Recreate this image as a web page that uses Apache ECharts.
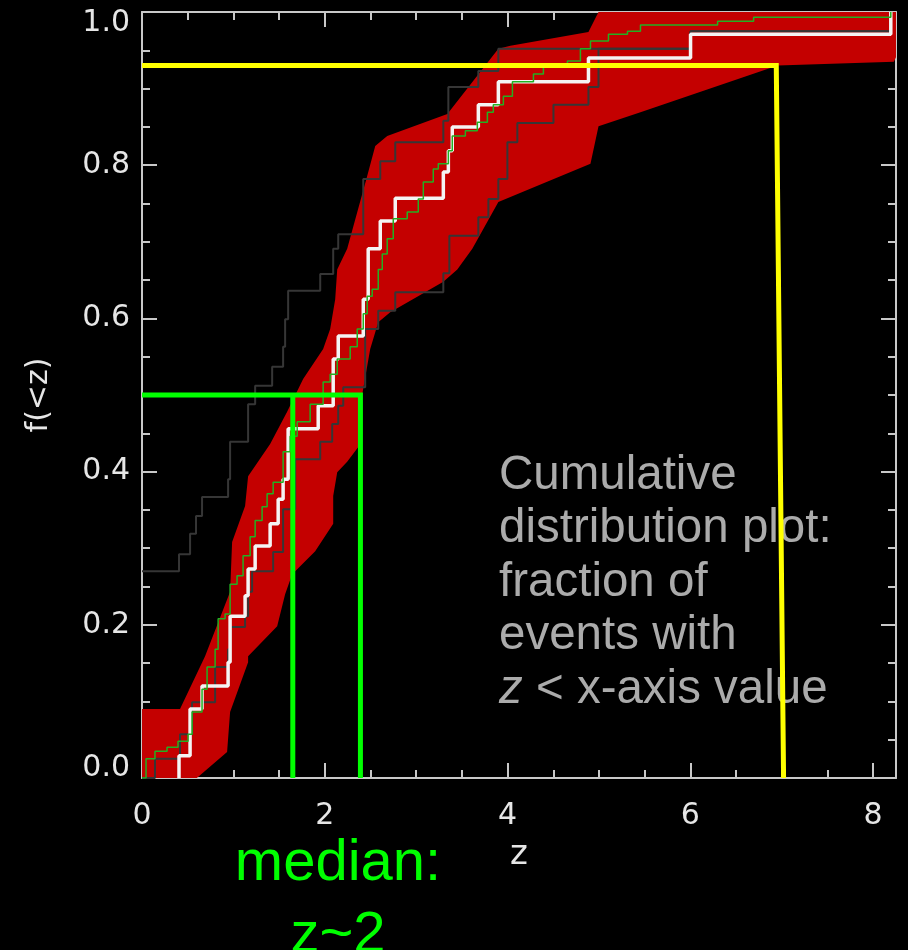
<!DOCTYPE html>
<html>
<head>
<meta charset="utf-8">
<script src="https://cdn.jsdelivr.net/npm/echarts@6.0.0/dist/echarts.min.js"></script>
<style>
  html, body { margin: 0; padding: 0; background: #000; }
  #main { width: 908px; height: 950px; }
</style>
</head>
<body>
<div id="main"></div>
<script>
// tick labels
var zTicks = [0, 2, 4, 6, 8];
var zMinorTicks = [0.5, 1, 1.5, 2.5, 3, 3.5, 4.5, 5, 5.5, 6.5, 7, 7.5];

// red band: upper (left) edge from bottom to top, lower (right) edge from top to bottom
var bandUpperZ = [0, 0, 0.416, 0.69, 0.964, 0.986, 1.128, 1.161, 1.402, 1.588, 1.763, 1.982, 2.059, 2.114, 2.136, 2.245, 2.464, 2.552, 2.683, 3.341, 3.899, 4.031, 4.885, 4.995, 8.25];
var bandUpperF = [0, 0.09, 0.09, 0.159, 0.243, 0.308, 0.355, 0.394, 0.436, 0.478, 0.521, 0.56, 0.586, 0.625, 0.664, 0.691, 0.786, 0.825, 0.838, 0.867, 0.952, 0.956, 0.974, 1.0, 1.0];
var bandLowerZ = [8.25, 8.226, 6.955, 5.454, 4.995, 4.907, 3.899, 3.614, 3.45, 3.297, 2.716, 2.585, 2.497, 2.41, 2.41, 2.245, 2.136, 2.092, 2.092, 1.895, 1.643, 1.566, 1.479, 1.161, 1.161, 0.964, 0.931, 0.6];
var bandLowerF = [0.941, 0.935, 0.93, 0.869, 0.851, 0.802, 0.752, 0.691, 0.664, 0.648, 0.608, 0.595, 0.56, 0.501, 0.439, 0.413, 0.399, 0.368, 0.332, 0.296, 0.266, 0.24, 0.198, 0.159, 0.151, 0.086, 0.034, 0];

// observed cumulative distribution (white)
var whiteZ = [0.405, 0.405, 0.526, 0.657, 0.942, 0.964, 1.128, 1.161, 1.238, 1.402, 1.49, 1.544, 1.599, 1.928, 2.092, 2.147, 2.421, 2.475, 2.607, 2.771, 3.297, 3.352, 3.395, 3.68, 3.899, 4.885, 6.002, 8.193];
var whiteF = [0, 0.029, 0.09, 0.12, 0.151, 0.211, 0.238, 0.273, 0.303, 0.332, 0.364, 0.39, 0.456, 0.486, 0.547, 0.577, 0.625, 0.691, 0.727, 0.757, 0.791, 0.819, 0.85, 0.879, 0.909, 0.94, 0.971, 1.0];

// model distribution (thin green)
var greenZ = [0, 0.044, 0.142, 0.274, 0.394, 0.504, 0.548, 0.657, 0.712, 0.8, 0.833, 0.909, 0.964, 1.04, 1.106, 1.183, 1.238, 1.314, 1.369, 1.435, 1.544, 1.621, 1.698, 1.84, 1.982, 2.059, 2.136, 2.278, 2.355, 2.421, 2.464, 2.519, 2.585, 2.629, 2.683, 2.749, 2.902, 3.023, 3.078, 3.187, 3.242, 3.352, 3.395, 3.538, 3.669, 3.779, 3.844, 3.954, 4.053, 4.283, 4.392, 4.655, 4.797, 4.907, 5.104, 5.312, 5.454, 6.298, 6.692, 8.193];
var greenF = [0, 0.025, 0.035, 0.04, 0.048, 0.057, 0.086, 0.116, 0.145, 0.168, 0.208, 0.214, 0.253, 0.264, 0.29, 0.315, 0.336, 0.354, 0.371, 0.386, 0.426, 0.446, 0.465, 0.488, 0.517, 0.527, 0.547, 0.563, 0.586, 0.606, 0.629, 0.638, 0.664, 0.684, 0.704, 0.73, 0.739, 0.756, 0.778, 0.795, 0.802, 0.819, 0.838, 0.845, 0.856, 0.869, 0.879, 0.89, 0.909, 0.919, 0.928, 0.936, 0.952, 0.962, 0.971, 0.975, 0.983, 0.988, 0.993, 1.0];

// bounding distributions (dark grey)
var leftGreyZ = [0, 0.405, 0.526, 0.591, 0.657, 0.942, 0.964, 1.161, 1.238, 1.424, 1.544, 1.566, 1.599, 1.95, 2.092, 2.147, 2.421, 2.607, 2.771, 3.297, 3.352, 3.68, 3.899, 6.002, 8.193];
var leftGreyF = [0.27, 0.292, 0.319, 0.342, 0.367, 0.39, 0.439, 0.488, 0.512, 0.537, 0.563, 0.599, 0.636, 0.658, 0.691, 0.71, 0.782, 0.805, 0.83, 0.858, 0.902, 0.923, 0.952, 0.975, 1.0];
var rightGreyZ = [0, 0.142, 0.416, 0.548, 0.8, 0.942, 0.964, 1.128, 1.161, 1.205, 1.435, 1.544, 1.676, 1.95, 2.081, 2.147, 2.202, 2.442, 2.585, 2.771, 3.297, 3.363, 3.68, 3.79, 3.899, 3.998, 4.107, 4.502, 4.885, 4.995, 6.002, 8.193];
var rightGreyF = [0, 0.025, 0.057, 0.099, 0.145, 0.168, 0.197, 0.211, 0.243, 0.27, 0.295, 0.351, 0.416, 0.439, 0.462, 0.486, 0.51, 0.586, 0.61, 0.634, 0.659, 0.708, 0.732, 0.756, 0.782, 0.83, 0.855, 0.879, 0.902, 0.952, 0.975, 1.0];

// guide lines
var yellowZ = [0, 6.94, 7.02];
var yellowF = [0.93, 0.93, 0];
var medianZ = [0, 2.39, 2.39];
var medianF = [0.5, 0.5, 0];
var medianLowZ = [1.65, 1.65];
var medianLowF = [0.5, 0];

function zip(a, b) {
  return a.map(function (v, i) { return [v, b[i]]; });
}

var axisColor = '#c8c8c8';
var labelFont = { color: '#e6e6e6', fontSize: 30, fontFamily: 'DejaVu Sans' };

var myChart = echarts.init(document.getElementById('main'));

var option = {
  backgroundColor: '#000',
  animation: false,
  grid: { left: 142, right: 12, top: 12, bottom: 172, outerBoundsMode: 'none' },
  xAxis: [{
    type: 'value', position: 'bottom', min: 0, max: 8.25,
    name: 'z', nameLocation: 'middle', nameGap: 60,
    nameTextStyle: { color: '#e6e6e6', fontSize: 34, fontFamily: 'DejaVu Sans' },
    axisLine: { show: true, onZero: false, lineStyle: { color: axisColor, width: 2 } },
    axisTick: { show: true, inside: true, length: 15, customValues: zTicks, lineStyle: { color: axisColor, width: 2 } },
    axisLabel: { show: true, margin: 23, customValues: zTicks, color: labelFont.color, fontSize: 30, fontFamily: labelFont.fontFamily },
    splitLine: { show: false }
  }, {
    type: 'value', position: 'bottom', min: 0, max: 8.25,
    axisLine: { show: false, onZero: false },
    axisTick: { show: true, inside: true, length: 8, customValues: zMinorTicks, lineStyle: { color: axisColor, width: 2 } },
    axisLabel: { show: false },
    splitLine: { show: false }
  }, {
    type: 'value', position: 'top', min: 0, max: 8.25,
    axisLine: { show: true, onZero: false, lineStyle: { color: axisColor, width: 2 } },
    axisTick: { show: true, inside: true, length: 15, customValues: zTicks, lineStyle: { color: axisColor, width: 2 } },
    axisLabel: { show: false },
    splitLine: { show: false }
  }, {
    type: 'value', position: 'top', min: 0, max: 8.25,
    axisLine: { show: false, onZero: false },
    axisTick: { show: true, inside: true, length: 8, customValues: zMinorTicks, lineStyle: { color: axisColor, width: 2 } },
    axisLabel: { show: false },
    splitLine: { show: false }
  }],
  yAxis: [{
    type: 'value', position: 'left', min: 0, max: 1, interval: 0.2,
    name: 'f(<z)', nameLocation: 'middle', nameGap: 88, nameRotate: 90,
    nameTextStyle: { color: '#e6e6e6', fontSize: 30, fontFamily: 'DejaVu Sans' },
    axisLine: { show: true, onZero: false, lineStyle: { color: axisColor, width: 2 } },
    axisTick: { show: true, inside: true, length: 15, lineStyle: { color: axisColor, width: 2 } },
    minorTick: { show: true, splitNumber: 4, length: 8, lineStyle: { color: axisColor, width: 2 } },
    axisLabel: {
      show: true, margin: 12, color: labelFont.color, fontSize: 30, fontFamily: labelFont.fontFamily,
      formatter: function (v) {
        if (v >= 1) return '{top|1.0}';
        if (v <= 0) return '{bot|0.0}';
        return v.toFixed(1);
      },
      rich: {
        top: { padding: [22, 0, 0, 0], color: labelFont.color, fontSize: 30, fontFamily: labelFont.fontFamily },
        bot: { padding: [0, 0, 20, 0], color: labelFont.color, fontSize: 30, fontFamily: labelFont.fontFamily }
      }
    },
    splitLine: { show: false }
  }, {
    type: 'value', position: 'right', min: 0, max: 1, interval: 0.2,
    axisLine: { show: true, onZero: false, lineStyle: { color: axisColor, width: 2 } },
    axisTick: { show: true, inside: true, length: 15, lineStyle: { color: axisColor, width: 2 } },
    minorTick: { show: true, splitNumber: 4, length: 8, lineStyle: { color: axisColor, width: 2 } },
    axisLabel: { show: false },
    splitLine: { show: false }
  }],
  graphic: [{
    type: 'text', x: 499, y: 449, z: 1,
    style: {
      text: 'Cumulative\ndistribution plot:\nfraction of\nevents with\n{i|z} < x-axis value',
      fill: '#ababab', fontSize: 47.5, fontFamily: 'Liberation Sans, Arial, sans-serif',
      lineHeight: 53.5, verticalAlign: 'top', align: 'left',
      rich: {
        i: { fill: '#ababab', fontSize: 47.5, fontStyle: 'italic', fontFamily: 'Liberation Sans, Arial, sans-serif', lineHeight: 53.5 }
      }
    }
  }, {
    type: 'text', x: 338, y: 828, z: 1,
    style: {
      text: 'median:\nz~2',
      fill: '#00ff00', fontSize: 58, fontFamily: 'Liberation Sans, Arial, sans-serif',
      lineHeight: 72, verticalAlign: 'top', align: 'center'
    }
  }],
  series: [{
    type: 'custom',
    name: 'band',
    z: 1,
    data: [[0, 0]],
    renderItem: function (params, api) {
      var zs = bandUpperZ.concat(bandLowerZ);
      var fs = bandUpperF.concat(bandLowerF);
      var pts = zs.map(function (z, i) { return api.coord([z, fs[i]]); });
      return { type: 'polygon', shape: { points: pts }, style: { fill: '#c40000' } };
    }
  }, {
    type: 'line', name: 'left bound', step: 'end', showSymbol: false, z: 2,
    data: zip(leftGreyZ, leftGreyF),
    lineStyle: { color: '#363636', width: 2 }
  }, {
    type: 'line', name: 'right bound', step: 'end', showSymbol: false, z: 2,
    data: zip(rightGreyZ, rightGreyF),
    lineStyle: { color: '#363636', width: 2 }
  }, {
    type: 'line', name: 'observed', step: 'end', showSymbol: false, z: 3,
    data: zip(whiteZ, whiteF),
    lineStyle: { color: '#f4f4f4', width: 3.5 }
  }, {
    type: 'line', name: 'model', step: 'end', showSymbol: false, z: 4,
    data: zip(greenZ, greenF),
    lineStyle: { color: '#22b022', width: 1.5 }
  }, {
    type: 'line', name: 'median', showSymbol: false, z: 5,
    data: zip(medianZ, medianF),
    lineStyle: { color: '#00ff00', width: 5, cap: 'butt', join: 'miter' }
  }, {
    type: 'line', name: 'median low', showSymbol: false, z: 5,
    data: zip(medianLowZ, medianLowF),
    lineStyle: { color: '#00ff00', width: 5, cap: 'butt' }
  }, {
    type: 'line', name: 'top fraction', showSymbol: false, z: 6,
    data: zip(yellowZ, yellowF),
    lineStyle: { color: '#ffff00', width: 5, cap: 'butt', join: 'miter' }
  }]
};
myChart.setOption(option);
</script>
</body>
</html>
